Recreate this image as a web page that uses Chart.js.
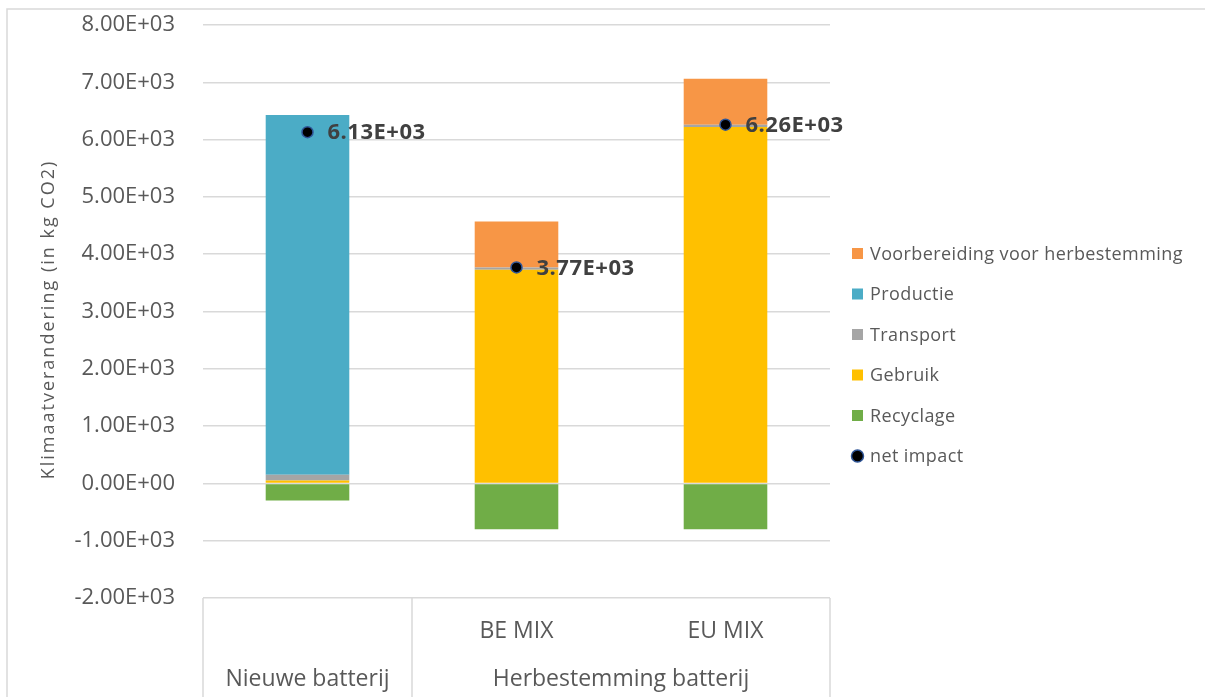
<!DOCTYPE html>
<html>
<head>
<meta charset="utf-8">
<title>Klimaatverandering</title>
<script src="https://cdn.jsdelivr.net/npm/chart.js@4.4.1/dist/chart.umd.min.js"></script>
<style>
  html, body { margin: 0; padding: 0; background: #ffffff; }
  #wrap { width: 1205px; height: 697px; }
</style>
</head>
<body>
<div id="wrap"><canvas id="c" width="1205" height="697"></canvas></div>
<script>
// Sub-categories along the x axis and the groups that span them
const subLabels = ['', 'BE MIX', 'EU MIX'];
const groupLabels = ['Nieuwe batterij', 'Herbestemming batterij'];
const groupSpans = [1, 2];

// Climate impact per life-cycle phase (kg CO2)
const recyclage = [-300, -800, -800];
const gebruik = [50, 3730, 6220];
const transport = [100, 40, 40];
const productie = [6280, 0, 0];
const voorbereiding = [0, 800, 800];
const netImpact = [6130, 3770, 6260];

// Value axis ticks
const yTickValues = [-2000, -1000, 0, 1000, 2000, 3000, 4000, 5000, 6000, 7000, 8000];
const yTitle = 'Klimaatverandering (in kg CO2)';

const FONT = "'Open Sans', 'Noto Sans', sans-serif";
const TEXT = '#595959';
const GRID = '#d9d9d9';

// Excel-style scientific notation: 6.13E+03
function sci(v) {
  if (v === 0) return '0.00E+00';
  const e = Math.floor(Math.log10(Math.abs(v)));
  const m = v / Math.pow(10, e);
  return m.toFixed(2) + 'E' + (e < 0 ? '-' : '+') + String(Math.abs(e)).padStart(2, '0');
}

// Light frame around the chart
const framePlugin = {
  id: 'frame',
  beforeDraw(chart) {
    const ctx = chart.ctx;
    ctx.save();
    ctx.strokeStyle = GRID;
    ctx.lineWidth = 1.5;
    ctx.beginPath();
    ctx.moveTo(7, chart.height);
    ctx.lineTo(7, 9);
    ctx.lineTo(chart.width, 9);
    ctx.stroke();
    ctx.restore();
  }
};

// Rotated value-axis title
const yTitlePlugin = {
  id: 'yTitle',
  afterDraw(chart) {
    const ctx = chart.ctx;
    const area = chart.chartArea;
    ctx.save();
    ctx.translate(49, (area.top + area.bottom) / 2 + 8);
    ctx.rotate(-Math.PI / 2);
    ctx.font = '18px ' + FONT;
    if ('letterSpacing' in ctx) ctx.letterSpacing = '2px';
    ctx.fillStyle = TEXT;
    ctx.textAlign = 'center';
    ctx.textBaseline = 'middle';
    ctx.fillText(yTitle, 0, 0);
    ctx.restore();
  }
};

// Group boxes and group labels under the category axis
const categoryBoxPlugin = {
  id: 'categoryBox',
  afterDraw(chart) {
    const ctx = chart.ctx;
    const xs = chart.scales.x;
    const area = chart.chartArea;
    const n = subLabels.length;
    const edge = i => {
      if (i <= 0) return area.left;
      if (i >= n) return area.right;
      return (xs.getPixelForValue(i - 1) + xs.getPixelForValue(i)) / 2;
    };
    ctx.save();
    ctx.strokeStyle = GRID;
    ctx.lineWidth = 1.5;
    ctx.fillStyle = TEXT;
    ctx.font = '23px ' + FONT;
    ctx.textAlign = 'center';
    ctx.textBaseline = 'middle';
    let start = 0;
    const bounds = [0];
    groupSpans.forEach(s => { start += s; bounds.push(start); });
    bounds.forEach(b => {
      const x = edge(b);
      ctx.beginPath();
      ctx.moveTo(x, area.bottom);
      ctx.lineTo(x, chart.height);
      ctx.stroke();
    });
    groupLabels.forEach((g, i) => {
      const x0 = edge(bounds[i]);
      const x1 = edge(bounds[i + 1]);
      ctx.fillText(g, (x0 + x1) / 2, area.bottom + 81);
    });
    ctx.restore();
  }
};

// Value labels next to the net impact markers
const valueLabelPlugin = {
  id: 'valueLabels',
  afterDatasetsDraw(chart) {
    const ctx = chart.ctx;
    const meta = chart.getDatasetMeta(0);
    const ds = chart.data.datasets[0];
    ctx.save();
    ctx.fillStyle = '#404040';
    ctx.font = 'bold 22px ' + FONT;
    if ('letterSpacing' in ctx) ctx.letterSpacing = '0.5px';
    ctx.textAlign = 'left';
    ctx.textBaseline = 'middle';
    meta.data.forEach((pt, i) => {
      ctx.fillText(sci(ds.data[i]), pt.x + 20, pt.y + 1);
    });
    ctx.restore();
  }
};

// Legend on the right, in reverse dataset order
const legendPlugin = {
  id: 'sideLegend',
  afterDraw(chart) {
    const ctx = chart.ctx;
    const items = chart.data.datasets.slice().reverse();
    const x = 852, y0 = 253.5, step = 40.5;
    ctx.save();
    ctx.font = '18px ' + FONT;
    if ('letterSpacing' in ctx) ctx.letterSpacing = '0.4px';
    ctx.textAlign = 'left';
    ctx.textBaseline = 'middle';
    items.forEach((ds, i) => {
      const cy = y0 + i * step;
      if (ds.type === 'line') {
        ctx.beginPath();
        ctx.arc(x + 5.5, cy, 6, 0, Math.PI * 2);
        ctx.fillStyle = '#000000';
        ctx.fill();
        ctx.lineWidth = 1.5;
        ctx.strokeStyle = '#2F5597';
        ctx.stroke();
      } else {
        ctx.fillStyle = ds.backgroundColor;
        ctx.fillRect(x, cy - 5.5, 11, 11);
      }
      ctx.fillStyle = TEXT;
      ctx.fillText(ds.label, x + 18, cy + 1);
    });
    ctx.restore();
  }
};

const barCommon = { stack: 'lca', order: 1, categoryPercentage: 1, barPercentage: 0.4, borderWidth: 0 };

new Chart(document.getElementById('c'), {
  type: 'bar',
  data: {
    labels: subLabels,
    datasets: [
      {
        type: 'line', label: 'net impact', data: netImpact, stack: 'net', order: 0,
        showLine: false, pointRadius: 5.5, pointHoverRadius: 5.5,
        pointBackgroundColor: '#000000', pointBorderColor: '#2F5597', pointBorderWidth: 1.5
      },
      Object.assign({ label: 'Recyclage', data: recyclage, backgroundColor: '#70AD47' }, barCommon),
      Object.assign({ label: 'Gebruik', data: gebruik, backgroundColor: '#FFC000' }, barCommon),
      Object.assign({ label: 'Transport', data: transport, backgroundColor: '#A5A5A5' }, barCommon),
      Object.assign({ label: 'Productie', data: productie, backgroundColor: '#4BACC6' }, barCommon),
      Object.assign({ label: 'Voorbereiding voor herbestemming', data: voorbereiding, backgroundColor: '#F79646' }, barCommon)
    ]
  },
  options: {
    responsive: false,
    animation: false,
    events: [],
    layout: { padding: { top: 25, left: 30, right: 375, bottom: 0 } },
    plugins: { legend: { display: false }, tooltip: { enabled: false } },
    scales: {
      x: {
        stacked: true,
        grid: { display: false, drawTicks: false },
        border: { display: false },
        ticks: { font: { family: FONT, size: 23 }, color: TEXT, padding: 20 },
        afterFit(s) { s.height = 99; }
      },
      y: {
        stacked: true,
        min: yTickValues[0],
        max: yTickValues[yTickValues.length - 1],
        afterBuildTicks(s) { s.ticks = yTickValues.map(v => ({ value: v })); },
        ticks: { callback: v => sci(v), font: { family: FONT, size: 22 }, color: TEXT, padding: 28 },
        grid: { color: GRID, lineWidth: 1.5, drawTicks: false },
        border: { display: false },
        title: { display: false },
        afterFit(s) { s.width = 173; s.paddingTop = 0; s.paddingBottom = 0; }
      }
    }
  },
  plugins: [framePlugin, yTitlePlugin, categoryBoxPlugin, valueLabelPlugin, legendPlugin]
});
</script>
</body>
</html>
